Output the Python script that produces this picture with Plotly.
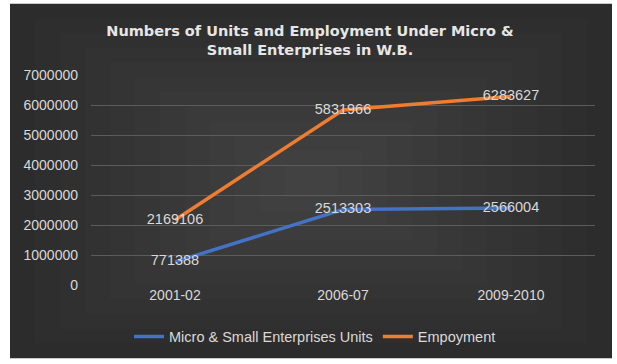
import plotly.graph_objects as go

# Data
years = ["2001-02", "2006-07", "2009-2010"]
units = [771388, 2513303, 2566004]
employment = [2169106, 5831966, 6283627]
y_ticks = [0, 1000000, 2000000, 3000000, 4000000, 5000000, 6000000, 7000000]

W, H = 617, 364
L, R, T, B = 91, 22, 75, 77
pw, ph = W - L - R, H - T - B


def px(x):
    return (x - L) / pw


def py(y):
    return (H - B - y) / ph


FONT = "Liberation Sans, Arial, sans-serif"
TEXT = "#d9d9d9"
label_font = dict(family=FONT, size=14.5, color=TEXT)

fig = go.Figure()
fig.add_trace(go.Scatter(
    x=years, y=units, name="Micro & Small Enterprises Units",
    mode="lines+text", text=[str(v) for v in units], textposition="middle center",
    textfont=label_font, line=dict(color="#4472C4", width=3.5),
))
fig.add_trace(go.Scatter(
    x=years, y=employment, name="Empoyment",
    mode="lines+text", text=[str(v) for v in employment], textposition="middle center",
    textfont=label_font, line=dict(color="#ED7D31", width=3.5),
))

# dark chart background with a soft vignette
shapes = [dict(type="rect", xref="paper", yref="paper", layer="below",
               x0=px(10), x1=px(612), y0=py(361), y1=py(3),
               fillcolor="#2a2a2a", line=dict(width=0))]
n = 12
for i in range(n):
    dx = 300 * i / n
    dy = 178 * i / n
    shapes.append(dict(type="rect", xref="paper", yref="paper", layer="below",
                       x0=px(10 + dx), x1=px(612 - dx), y0=py(361 - dy), y1=py(3 + dy),
                       fillcolor="rgba(255,255,255,0.013)", line=dict(width=0)))

fig.update_layout(
    width=W, height=H, autosize=False,
    margin=dict(l=L, r=R, t=T, b=B),
    paper_bgcolor="white", plot_bgcolor="rgba(0,0,0,0)",
    shapes=shapes,
    title=dict(text="Numbers of Units and Employment Under Micro &<br>Small Enterprises in W.B.",
               x=px(310), xanchor="center", xref="paper", y=1 - 36 / H, yanchor="middle",
               font=dict(family="DejaVu Sans, sans-serif", size=14.5, color="#e6e6e6",
                         weight="bold")),
    showlegend=True,
    legend=dict(orientation="h", x=px(315), xanchor="center", y=py(339), yanchor="middle",
                font=dict(family=FONT, size=14.5, color=TEXT),
                bgcolor="rgba(0,0,0,0)", itemwidth=30),
    xaxis=dict(type="category", range=[-0.5, 2.5], showgrid=False, zeroline=False,
               showline=False, ticks="",
               tickfont=dict(family=FONT, size=14, color=TEXT)),
    yaxis=dict(range=[0, 7000000], tickvals=y_ticks, ticktext=[str(v) for v in y_ticks],
               showgrid=True, gridcolor="#5c5c5c", gridwidth=1, zeroline=False,
               showline=False, ticks="", ticklabelstandoff=12,
               tickfont=dict(family=FONT, size=14, color=TEXT)),
)

fig.write_html("out.html")
